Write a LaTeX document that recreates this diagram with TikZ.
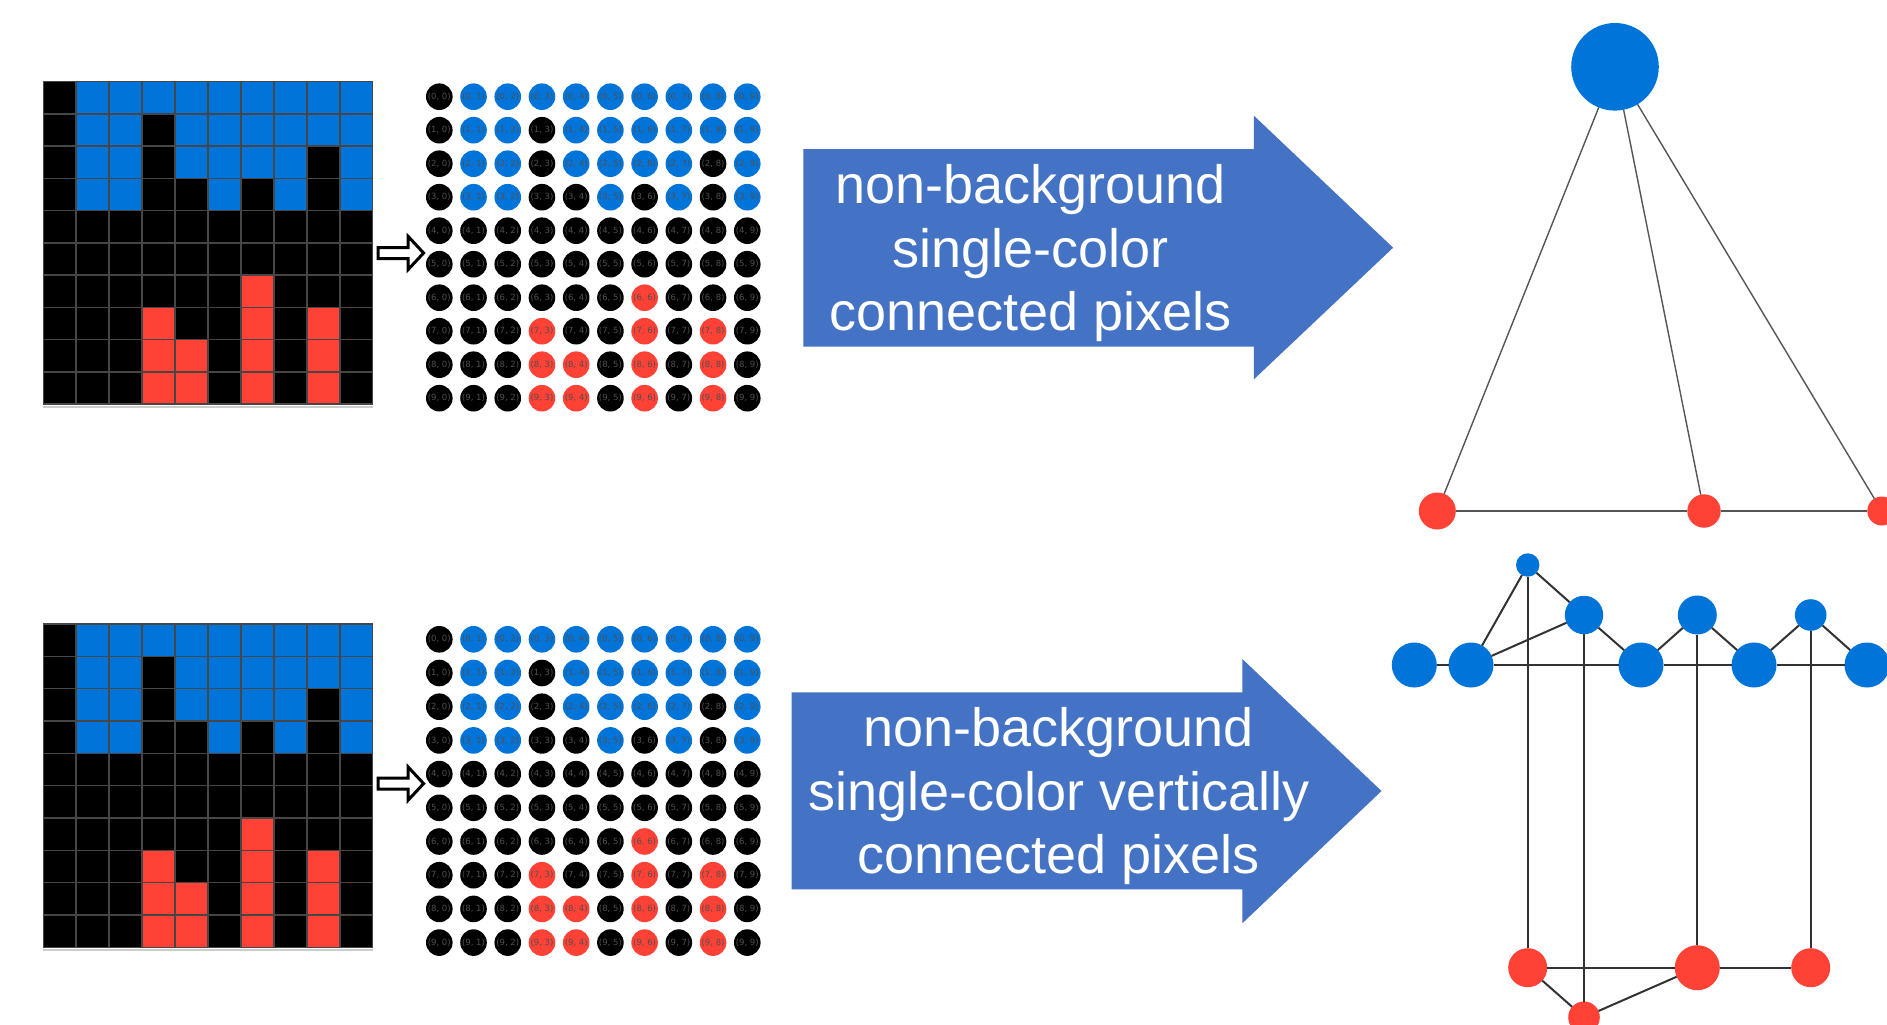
\documentclass[tikz,border=0pt]{standalone}
\usepackage{fontspec}
\setmainfont{Liberation Sans}
\newfontfamily\arrowfont{Liberation Sans}
\newfontfamily\lblfont{DejaVu Sans}

% ARC-style palette
\definecolor{pk}{RGB}{0,0,0}
\definecolor{pb}{RGB}{0,116,217}
\definecolor{pr}{RGB}{255,65,54}
\definecolor{arrowblue}{RGB}{68,114,196}
\definecolor{cellline}{RGB}{70,70,70}
\definecolor{latticeedge}{RGB}{95,95,95}
\definecolor{lblgray}{RGB}{80,80,80}
\definecolor{graphedge}{RGB}{85,85,85}
\definecolor{graphedgedark}{RGB}{50,50,50}

% colour of every pixel, row by row
\def\pixrows{{k,b,b,b,b,b,b,b,b,b},{k,b,b,k,b,b,b,b,b,b},{k,b,b,k,b,b,b,b,k,b},{k,b,b,k,k,b,k,b,k,b},{k,k,k,k,k,k,k,k,k,k},{k,k,k,k,k,k,k,k,k,k},{k,k,k,k,k,k,r,k,k,k},{k,k,k,r,k,k,r,k,r,k},{k,k,k,r,r,k,r,k,r,k},{k,k,k,r,r,k,r,k,r,k}}

% #1 = top edge, #2 = cell height
\newcommand\pixelpanel[2]{%
  \foreach \rowcols [count=\r from 0] in \pixrows {
    \foreach \c [count=\k from 0] in \rowcols {
      \fill[p\c] ({43.3+32.94*\k},{#1+#2*\r}) rectangle ++(32.94,#2);
    }
  }
  \foreach \k in {0,...,10}
    \draw[cellline, line width=1.5pt] ({43.3+32.94*\k},{#1}) -- ++(0,{10*#2});
  \foreach \r in {0,...,10}
    \draw[cellline, line width=1.5pt] (43.3,{#1+#2*\r}) -- ++(329.4,0);
  \draw[black!20, line width=2pt] (43.3,{#1+10*#2+2.5}) -- ++(329.4,0);
}

% #1 = name prefix, #2 = centre of the first row, #3 = row pitch
\newcommand\latticepanel[3]{%
  \foreach \rowcols [count=\r from 0] in \pixrows {
    \foreach \c [count=\k from 0] in \rowcols {
      \node[gnode, fill=p\c] (#1-\r-\k) at ({439.3+34.22*\k},{#2+#3*\r}) {\makebox[0pt]{(\r, \k)}};
    }
  }
  \foreach \r in {0,...,9}
    \foreach \k [evaluate=\k as \kk using int(\k+1)] in {0,...,8}
      \draw[gedge] (#1-\r-\k) -- (#1-\r-\kk);
  \foreach \k in {0,...,9}
    \foreach \r [evaluate=\r as \rr using int(\r+1)] in {0,...,8}
      \draw[gedge] (#1-\r-\k) -- (#1-\rr-\k);
}

% hollow block arrow, #1 = centre line
\newcommand\hollowarrow[1]{%
  \draw[black, fill=white, line width=3pt, miter limit=10]
    (378.2,{#1-5.5}) -- (408.2,{#1-5.5}) -- (408.2,{#1-16.5}) -- (423.6,{#1})
    -- (408.2,{#1+16.5}) -- (408.2,{#1+5.5}) -- (378.2,{#1+5.5}) -- cycle;
}

\begin{document}
\begin{tikzpicture}[x=1pt,y=-1pt,
  gnode/.style={circle, inner sep=0pt, outer sep=0pt, minimum size=26.6pt,
    font=\lblfont\fontsize{8.5}{9}\selectfont, text=lblgray},
  gedge/.style={draw=latticeedge, line width=2pt},
  vtx/.style={circle, inner sep=0pt, outer sep=0pt},
  bv/.style={vtx, fill=pb},
  rv/.style={vtx, fill=pr},
  thinedge/.style={draw=graphedge, line width=1.4pt},
  darkedge/.style={draw=graphedgedark, line width=2pt},
  arrowtext/.style={text=white, align=center, inner sep=0pt,
    font=\arrowfont\fontsize{54}{63.5}\selectfont}]

\clip (0,0) rectangle (1887,1025);
\fill[white] (0,0) rectangle (1887,1025);

% ---------- upper row: 8-connected components ----------
\pixelpanel{81.7}{32.23}
\hollowarrow{253}
\latticepanel{a}{96.7}{33.5}

\fill[arrowblue] (803.3,149) -- (1253.9,149) -- (1253.9,115.7) -- (1393.1,247.7)
  -- (1253.9,379.3) -- (1253.9,346.7) -- (803.3,346.7) -- cycle;
\node[arrowtext, anchor=north] (txta) at (1030.5,164.3)
  {non-background\\single-color\\connected pixels};

\node[bv, minimum size=87.6pt] (ga) at (1615,66.8) {};
\node[rv, minimum size=37pt] (gl) at (1437.3,511) {};
\node[rv, minimum size=33.4pt] (gm) at (1704,511) {};
\node[rv, minimum size=29pt] (gr) at (1881.8,511) {};
\draw[thinedge] (ga) -- (gl);
\draw[thinedge] (ga) -- (gm);
\draw[thinedge] (ga) -- (gr);
\draw[thinedge] (gl) -- (gm);
\draw[thinedge] (gm) -- (gr);

% ---------- lower row: vertically connected components ----------
\pixelpanel{624}{32.33}
\hollowarrow{783.6}
\latticepanel{b}{639.3}{33.7}

\fill[arrowblue] (791.6,692.3) -- (1242.3,692.3) -- (1242.3,659) -- (1381.5,791)
  -- (1242.3,923.3) -- (1242.3,889.3) -- (791.6,889.3) -- cycle;
\node[arrowtext, anchor=north] (txtb) at (1058.8,707.3)
  {non-background\\single-color vertically\\connected pixels};

\node[bv, minimum size=45pt] (b1) at (1414.3,665) {};
\node[bv, minimum size=45pt] (b2) at (1471,665) {};
\node[bv, minimum size=45pt] (b3) at (1641,665) {};
\node[bv, minimum size=45pt] (b4) at (1754,665) {};
\node[bv, minimum size=45pt] (b5) at (1867,665) {};
\node[bv, minimum size=23.4pt] (t0) at (1527.7,565) {};
\node[bv, minimum size=38.4pt] (t1) at (1584,615) {};
\node[bv, minimum size=39pt] (t2) at (1697.3,615) {};
\node[bv, minimum size=31.6pt] (t3) at (1810.7,615) {};
\node[rv, minimum size=39pt] (r1) at (1527.7,967.7) {};
\node[rv, minimum size=45pt] (r2) at (1697.3,967.7) {};
\node[rv, minimum size=39pt] (r3) at (1810.7,967.7) {};
\node[rv, minimum size=31.6pt] (r0) at (1584,1017.3) {};

\draw[darkedge] (b1) -- (b2);
\draw[darkedge] (b2) -- (b3);
\draw[darkedge] (b3) -- (b4);
\draw[darkedge] (b4) -- (b5);
\draw[darkedge] (t0) -- (b2);
\draw[darkedge] (t0) -- (t1);
\draw[darkedge] (b2) -- (t1);
\draw[darkedge] (t1) -- (b3);
\draw[darkedge] (b3) -- (t2);
\draw[darkedge] (t2) -- (b4);
\draw[darkedge] (b4) -- (t3);
\draw[darkedge] (t3) -- (b5);
\draw[darkedge] (t0) -- (r1);
\draw[darkedge] (t1) -- (r0);
\draw[darkedge] (t2) -- (r2);
\draw[darkedge] (t3) -- (r3);
\draw[darkedge] (r1) -- (r2);
\draw[darkedge] (r2) -- (r3);
\draw[darkedge] (r1) -- (r0);
\draw[darkedge] (r0) -- (r2);
\end{tikzpicture}
\end{document}
